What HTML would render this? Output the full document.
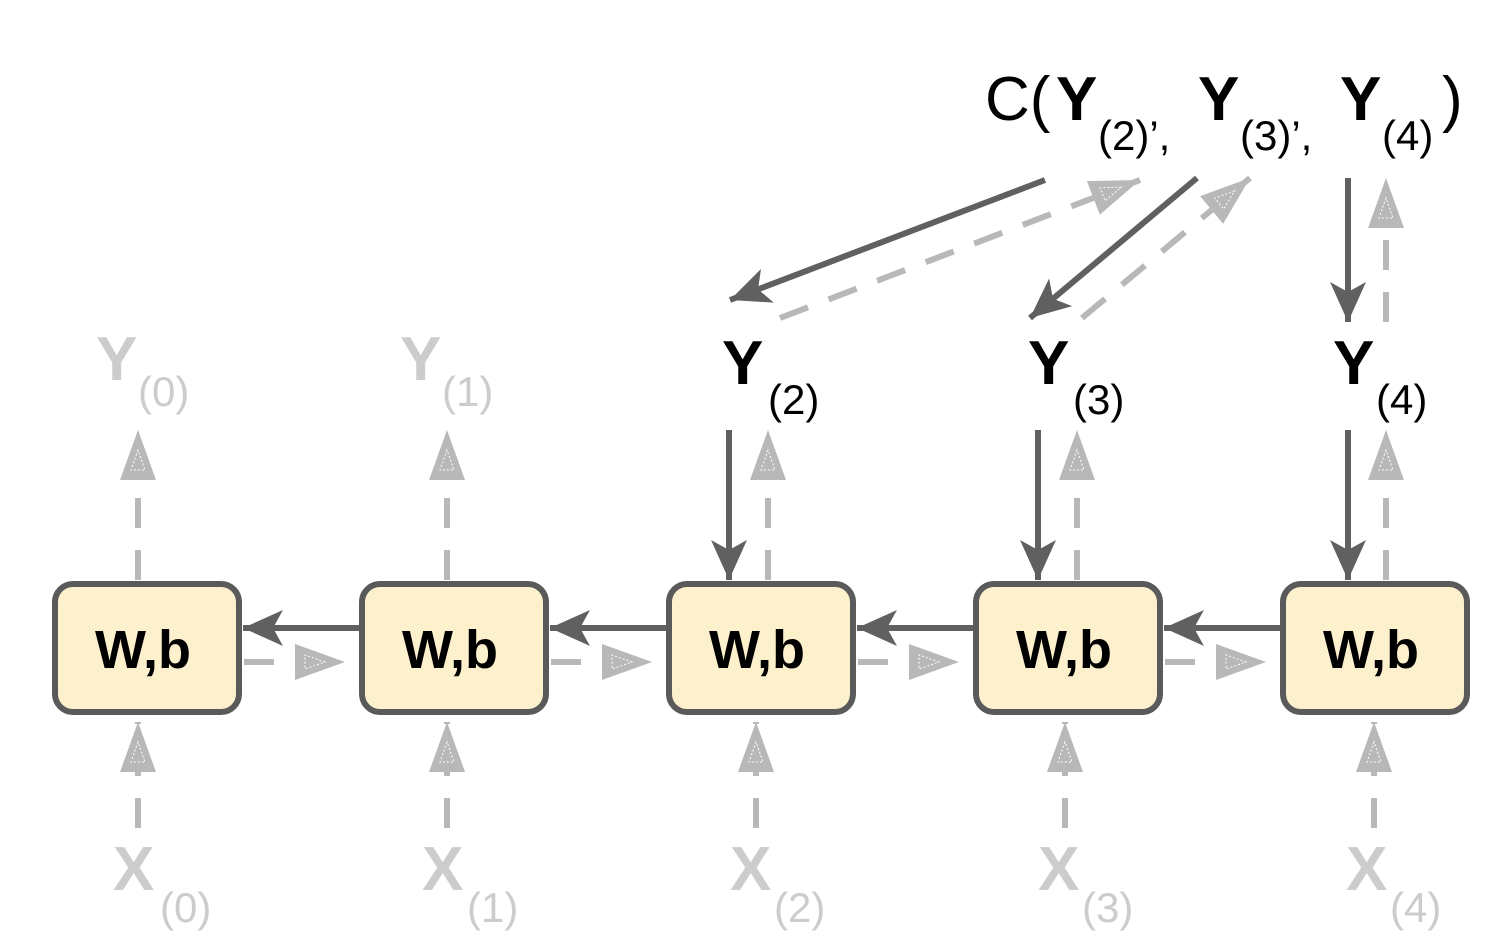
<!DOCTYPE html>
<html><head><meta charset="utf-8"><style>
html,body{margin:0;padding:0;background:#fff;width:1486px;height:952px;overflow:hidden}
svg text{font-family:"Liberation Sans",Arial,sans-serif}
</style></head><body>
<svg width="1486" height="952" viewBox="0 0 1486 952" xmlns="http://www.w3.org/2000/svg">
<defs>
<marker id="s" markerUnits="userSpaceOnUse" markerWidth="50" markerHeight="50" refX="46" refY="20" orient="auto">
<path d="M46,20 L6,2 L16,20 L6,38 Z" fill="#606060"/>
</marker>
<marker id="d" markerUnits="userSpaceOnUse" markerWidth="60" markerHeight="50" refX="50" refY="20" orient="auto">
<path d="M50,20 L0,2 L0,38 Z" fill="#b8b8b8"/>
<path d="M30,20 L10,13 L10,27 Z" fill="none" stroke="#fff" stroke-width="1" stroke-dasharray="2,2"/>
</marker>
</defs>
<g fill="none" stroke-width="6">
<!-- horizontal solid arrows -->
<g stroke="#606060">
<line x1="360" y1="628" x2="243" y2="628" marker-end="url(#s)"/>
<line x1="667" y1="628" x2="550" y2="628" marker-end="url(#s)"/>
<line x1="974" y1="628" x2="857" y2="628" marker-end="url(#s)"/>
<line x1="1281" y1="628" x2="1164" y2="628" marker-end="url(#s)"/>
</g>
<g stroke="#b8b8b8" stroke-dasharray="30,22">
<line x1="244" y1="662" x2="345" y2="662" marker-end="url(#d)"/>
<line x1="551" y1="662" x2="652" y2="662" marker-end="url(#d)"/>
<line x1="858" y1="662" x2="959" y2="662" marker-end="url(#d)"/>
<line x1="1165" y1="662" x2="1266" y2="662" marker-end="url(#d)"/>
<!-- up from boxes -->
<line x1="138" y1="580" x2="138" y2="430" marker-end="url(#d)"/>
<line x1="447" y1="580" x2="447" y2="430" marker-end="url(#d)"/>
<line x1="768" y1="580" x2="768" y2="430" marker-end="url(#d)"/>
<line x1="1077" y1="580" x2="1077" y2="430" marker-end="url(#d)"/>
<line x1="1386" y1="580" x2="1386" y2="430" marker-end="url(#d)"/>
<!-- X up -->
<line x1="138" y1="828" x2="138" y2="722" marker-end="url(#d)"/>
<line x1="447" y1="828" x2="447" y2="722" marker-end="url(#d)"/>
<line x1="756" y1="828" x2="756" y2="722" marker-end="url(#d)"/>
<line x1="1065" y1="828" x2="1065" y2="722" marker-end="url(#d)"/>
<line x1="1374" y1="828" x2="1374" y2="722" marker-end="url(#d)"/>
<!-- top dashed -->
<line x1="780" y1="318" x2="1140" y2="180" marker-end="url(#d)"/>
<line x1="1082" y1="318" x2="1250" y2="178" marker-end="url(#d)"/>
<line x1="1386" y1="322" x2="1386" y2="178" marker-end="url(#d)"/>
</g>
<g stroke="#606060">
<line x1="729" y1="430" x2="729" y2="580" marker-end="url(#s)"/>
<line x1="1038" y1="430" x2="1038" y2="580" marker-end="url(#s)"/>
<line x1="1348" y1="430" x2="1348" y2="580" marker-end="url(#s)"/>
<line x1="1045" y1="180" x2="730" y2="300" marker-end="url(#s)"/>
<line x1="1197" y1="178" x2="1030" y2="318" marker-end="url(#s)"/>
<line x1="1348" y1="178" x2="1348" y2="322" marker-end="url(#s)"/>
</g>
<!-- boxes -->
<g fill="#fdf0cc" stroke="#5a5a5a">
<rect x="55" y="584" width="184" height="128" rx="18"/>
<rect x="362" y="584" width="184" height="128" rx="18"/>
<rect x="669" y="584" width="184" height="128" rx="18"/>
<rect x="976" y="584" width="184" height="128" rx="18"/>
<rect x="1283" y="584" width="184" height="128" rx="18"/>
</g>
</g>
<g font-size="54" font-weight="bold" fill="#000" text-anchor="middle">
<text x="143" y="668">W,b</text>
<text x="450" y="668">W,b</text>
<text x="757" y="668">W,b</text>
<text x="1064" y="668">W,b</text>
<text x="1371" y="668">W,b</text>
</g>
<!-- X labels -->
<g fill="#cccccc">
<text x="113" y="890" font-size="62" font-weight="bold">X</text><text x="160" y="922" font-size="42">(0)</text>
<text x="422" y="890" font-size="62" font-weight="bold">X</text><text x="467" y="922" font-size="42">(1)</text>
<text x="730" y="890" font-size="62" font-weight="bold">X</text><text x="774" y="922" font-size="42">(2)</text>
<text x="1038" y="890" font-size="62" font-weight="bold">X</text><text x="1082" y="922" font-size="42">(3)</text>
<text x="1346" y="890" font-size="62" font-weight="bold">X</text><text x="1390" y="922" font-size="42">(4)</text>
<text x="96" y="380" font-size="62" font-weight="bold">Y</text><text x="138" y="406" font-size="42">(0)</text>
<text x="400" y="380" font-size="62" font-weight="bold">Y</text><text x="442" y="406" font-size="42">(1)</text>
</g>
<g fill="#000">
<text x="722" y="384" font-size="62" font-weight="bold">Y</text><text x="768" y="414" font-size="42">(2)</text>
<text x="1028" y="384" font-size="62" font-weight="bold">Y</text><text x="1073" y="414" font-size="42">(3)</text>
<text x="1333" y="384" font-size="62" font-weight="bold">Y</text><text x="1376" y="414" font-size="42">(4)</text>
<text x="985" y="120" font-size="62">C(</text>
<text x="1056" y="120" font-size="62" font-weight="bold">Y</text>
<text x="1098" y="150" font-size="42">(2)’,</text>
<text x="1198" y="120" font-size="62" font-weight="bold">Y</text>
<text x="1240" y="150" font-size="42">(3)’,</text>
<text x="1340" y="120" font-size="62" font-weight="bold">Y</text>
<text x="1382" y="150" font-size="42">(4)</text>
<text x="1442" y="120" font-size="62">)</text>
</g>
</svg>
</body></html>
